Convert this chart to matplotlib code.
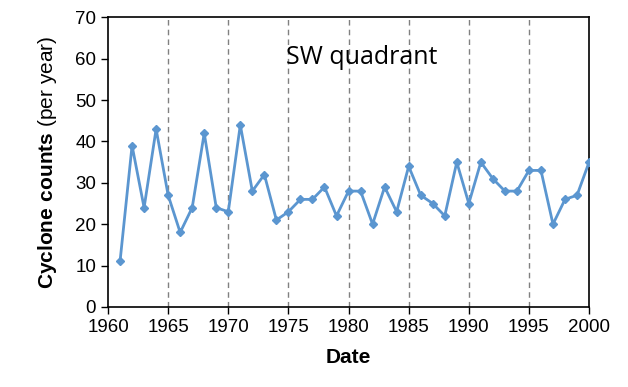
import numpy as np
import matplotlib.pyplot as plt

plt.rcParams['font.family'] = ['Liberation Sans', 'DejaVu Sans']
plt.rcParams['mathtext.fontset'] = 'custom'
plt.rcParams['mathtext.bf'] = 'Liberation Sans:bold'
plt.rcParams['mathtext.rm'] = 'Liberation Sans'

# Datos: ciclones por año, cuadrante SW
years = list(range(1961, 2001))
counts = [11, 39, 24, 43, 27, 18, 24, 42, 24, 23,
          44, 28, 32, 21, 23, 26, 26, 29, 22, 28,
          28, 20, 29, 23, 34, 27, 25, 22, 35, 25,
          35, 31, 28, 28, 33, 33, 20, 26, 27, 35]
decade_marks = [1965, 1970, 1975, 1980, 1985, 1990, 1995]

fig = plt.figure(figsize=(6.28, 3.87), dpi=100)
ax = fig.add_axes([0.172, 0.207, 0.766, 0.748])

for yr in decade_marks:
    ax.axvline(yr, color='#808080', linestyle=(0, (4, 3)), linewidth=1.0, zorder=1)

ax.plot(years, counts, color='#5b96d0', linewidth=2, marker='D', markersize=4.5, zorder=3)

ax.set_xlim(1960, 2000)
ax.set_ylim(0, 70)
ax.set_xticks(range(1960, 2001, 5))
ax.set_yticks(range(0, 71, 10))
ax.tick_params(direction='out', length=5, width=1, labelsize=13.5, colors='black')
for s in ax.spines.values():
    s.set_linewidth(1.2)

ax.set_xlabel('Date', fontsize=15, fontweight='bold', labelpad=9)
ax.set_ylabel(r'$\bf{Cyclone\ counts}$ (per year)', fontsize=15, labelpad=12)

ax.text(1981.1, 60.3, 'SW quadrant', fontsize=18, family='Open Sans',
        ha='center', va='center')

plt.savefig('out.png', dpi=100)
